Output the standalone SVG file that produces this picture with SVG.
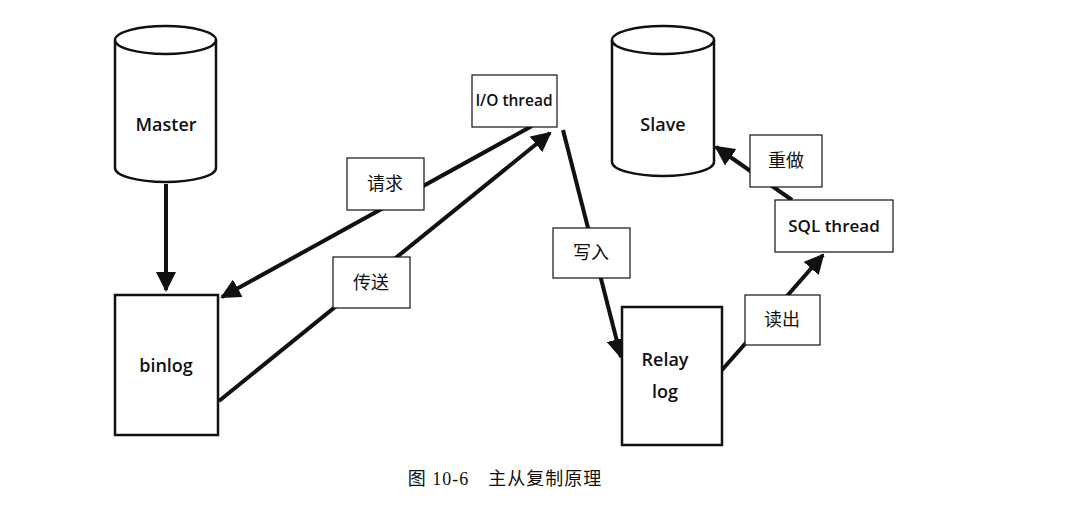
<svg xmlns="http://www.w3.org/2000/svg" width="1074" height="513" viewBox="0 0 1074 513">
<defs>
<marker id="ah" viewBox="0 0 10 10" refX="9" refY="5" markerWidth="5" markerHeight="5" orient="auto" markerUnits="strokeWidth"><path d="M0,0 L10,5 L0,10 z" fill="#111"/></marker>
<style>
.s{fill:#fff;stroke:#111;stroke-width:2.5}
.t{font-family:"Open Sans","Liberation Sans","Noto Sans CJK SC",sans-serif;font-size:18px;fill:#111;text-anchor:middle;font-weight:600}
.z{font-family:"Noto Sans CJK SC",sans-serif;font-size:18px;fill:#111;text-anchor:middle}
.c{stroke:#111;stroke-width:4;fill:none}
.l{fill:#fff;stroke:#111;stroke-width:1.2}
</style>
</defs>
<rect width="1074" height="513" fill="#fff"/>
<g id="connectors">
<line class="c" x1="166" y1="184" x2="166" y2="290" marker-end="url(#ah)"/>
<line class="c" x1="532" y1="126" x2="222" y2="297" marker-end="url(#ah)"/>
<line class="c" x1="219" y1="401" x2="550" y2="133" marker-end="url(#ah)"/>
<line class="c" x1="563" y1="130" x2="621" y2="357" marker-end="url(#ah)"/>
<line class="c" x1="722" y1="370" x2="823" y2="255" marker-end="url(#ah)"/>
<line class="c" x1="792" y1="200" x2="716" y2="147" marker-end="url(#ah)"/>
</g>
<g id="master"><path class="s" d="M115,40 L115,168 A50.5,14 0 0 0 216,168 L216,40"/><ellipse class="s" cx="165.5" cy="40" rx="50.5" ry="14"/><text class="t" x="166" y="131">Master</text></g>
<g id="slave"><path class="s" d="M612,40 L612,162 A51,14 0 0 0 714,162 L714,40"/><ellipse class="s" cx="663" cy="40" rx="51" ry="14"/><text class="t" x="663" y="131">Slave</text></g>
<g id="binlog"><rect class="s" x="115" y="295" width="103" height="140"/><text class="t" x="166" y="372">binlog</text></g>
<g id="relay"><rect class="s" x="622" y="307" width="100" height="138"/><text class="t" x="665" y="366">Relay</text><text class="t" x="665" y="398">log</text></g>
<g id="io"><rect class="l" x="472" y="75" width="85" height="52"/><text class="t" x="514" y="106" style="font-size:15.5px">I/O thread</text></g>
<g id="sql"><rect class="l" x="775" y="200" width="118" height="52"/><text class="t" x="834" y="232" style="font-size:17px">SQL thread</text></g>
<g id="lb1"><rect class="l" x="347" y="158" width="77" height="52"/><text class="z" x="385" y="190">请求</text></g>
<g id="lb2"><rect class="l" x="333" y="257" width="77" height="51"/><text class="z" x="371" y="289">传送</text></g>
<g id="lb3"><rect class="l" x="553" y="228" width="77" height="50"/><text class="z" x="591" y="259">写入</text></g>
<g id="lb4"><rect class="l" x="750" y="135" width="72" height="52"/><text class="z" x="786" y="167">重做</text></g>
<g id="lb5"><rect class="l" x="745" y="295" width="75" height="50"/><text class="z" x="782" y="326">读出</text></g>
<text x="505" y="485" font-family="'Liberation Serif','Noto Sans CJK SC',serif" font-size="18" fill="#111" text-anchor="middle" letter-spacing="1">图 10-6　主从复制原理</text>
</svg>
